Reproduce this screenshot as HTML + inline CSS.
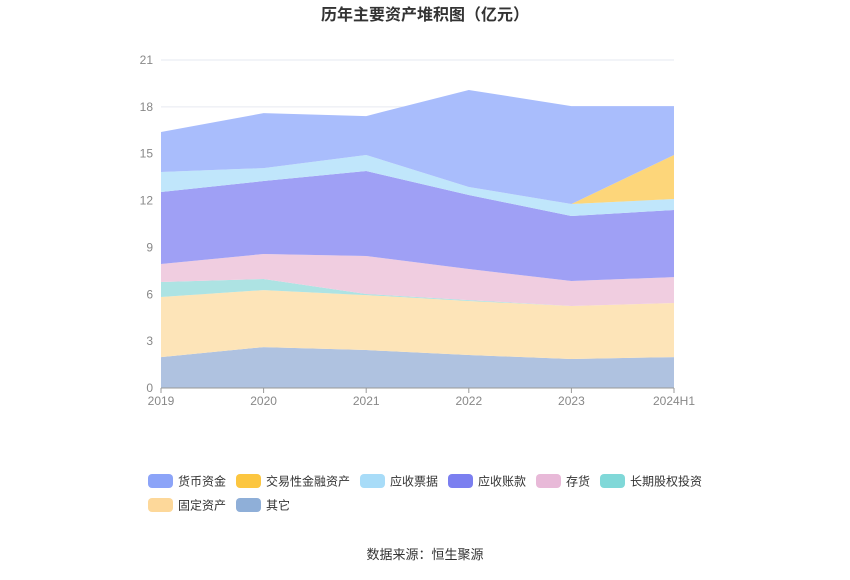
<!DOCTYPE html>
<html><head><meta charset="utf-8"><style>
body{margin:0;background:#fff;font-family:"Liberation Sans","Noto Sans CJK SC",sans-serif;}
svg text{font-family:"Liberation Sans","Noto Sans CJK SC",sans-serif;}
</style></head><body>
<svg id="c" width="850" height="575" xmlns="http://www.w3.org/2000/svg">
<text x="425" y="20" text-anchor="middle" font-size="16" font-weight="bold" fill="#333">历年主要资产堆积图（亿元）</text>
<g id="grid"></g><g id="areas"></g><g id="axes"></g><g id="legend"></g>
<text x="425" y="559" text-anchor="middle" font-size="13" fill="#333">数据来源：恒生聚源</text>
</svg>
<script>
const categories=["2019","2020","2021","2022","2023","2024H1"];
const yTicks=[0,3,6,9,12,15,18,21];
const seriesNames=["其它","固定资产","长期股权投资","存货","应收账款","应收票据","交易性金融资产","货币资金"];
const other=[1.98,2.62,2.43,2.11,1.86,1.98];
const fixedAssets=[3.85,3.65,3.52,3.46,3.39,3.46];
const ltEquity=[0.96,0.71,0.07,0.06,0,0];
const inventory=[1.15,1.6,2.43,1.99,1.6,1.66];
const receivables=[4.61,4.67,5.44,4.74,4.16,4.3];
const notesRecv=[1.28,0.83,1.03,0.51,0.77,0.7];
const tradingFin=[0,0,0,0,0,2.82];
const cash=[2.56,3.52,2.49,6.21,6.27,3.13];
const seriesValues=[other,fixedAssets,ltEquity,inventory,receivables,notesRecv,tradingFin,cash];
const fills=["#afc2e0","#fde4b8","#ade3e3","#f0cde0","#9fa0f5","#c0e6fb","#fdd67a","#a9bdfc"];
const NS="http://www.w3.org/2000/svg";
const x0=161,x1=674,yb=388,yt=60,ymax=21;
const X=i=>x0+i*(x1-x0)/(categories.length-1);
const Y=v=>yb-v*(yb-yt)/ymax;
function mk(t,a,p){const e=document.createElementNS(NS,t);for(const k in a)e.setAttribute(k,a[k]);p.appendChild(e);return e;}
const grid=document.getElementById('grid'),axes=document.getElementById('axes'),areas=document.getElementById('areas'),leg=document.getElementById('legend');
yTicks.forEach(t=>{
 const l=mk('line',{x1:x0,x2:x1,y1:Y(t),y2:Y(t),stroke:'#e6e9f0'},grid);
 
 
 const tx=mk('text',{x:153,y:Y(t)+4,'text-anchor':'end','font-size':12,fill:'#888'},axes);tx.textContent=t;
 
 
});
let base=categories.map(()=>0);
seriesValues.forEach((vals,s)=>{
 const top=vals.map((v,i)=>base[i]+v);
 let d='M'+top.map((v,i)=>X(i)+','+Y(v)).join('L');
 for(let i=categories.length-1;i>=0;i--)d+='L'+X(i)+','+Y(base[i]);
 const p=mk('path',{d:d+'Z',fill:fills[s]},areas);
 
 
 base=top;
});
mk('line',{x1:x0,x2:x1,y1:yb,y2:yb,stroke:'#999'},axes);
categories.forEach((c,i)=>{
 mk('line',{x1:X(i),x2:X(i),y1:yb,y2:yb+5,stroke:'#999'},axes);
 const tx=mk('text',{x:X(i),y:405,'text-anchor':'middle','font-size':12,fill:'#888'},axes);tx.textContent=c;
 
 
});
const legCols=["#8ca4f8","#fcc640","#a8dcf8","#7b7ff0","#e8b9d8","#80d8d8","#fdd89a","#8fafd8"];
const legNames=["货币资金","交易性金融资产","应收票据","应收账款","存货","长期股权投资","固定资产","其它"];
const legX=[148,236,360,448,536,600,148,236],legY=[481,481,481,481,481,481,505,505];
legNames.forEach((n,i)=>{
 const g=mk('g',{},leg);
 
 
 mk('rect',{x:legX[i],y:legY[i]-7,width:25,height:14,rx:4,fill:legCols[i]},g);
 const t=mk('text',{x:legX[i]+30,y:legY[i]+4.5,'font-size':12,fill:'#333'},g);t.textContent=n;
});
</script>
</body></html>
